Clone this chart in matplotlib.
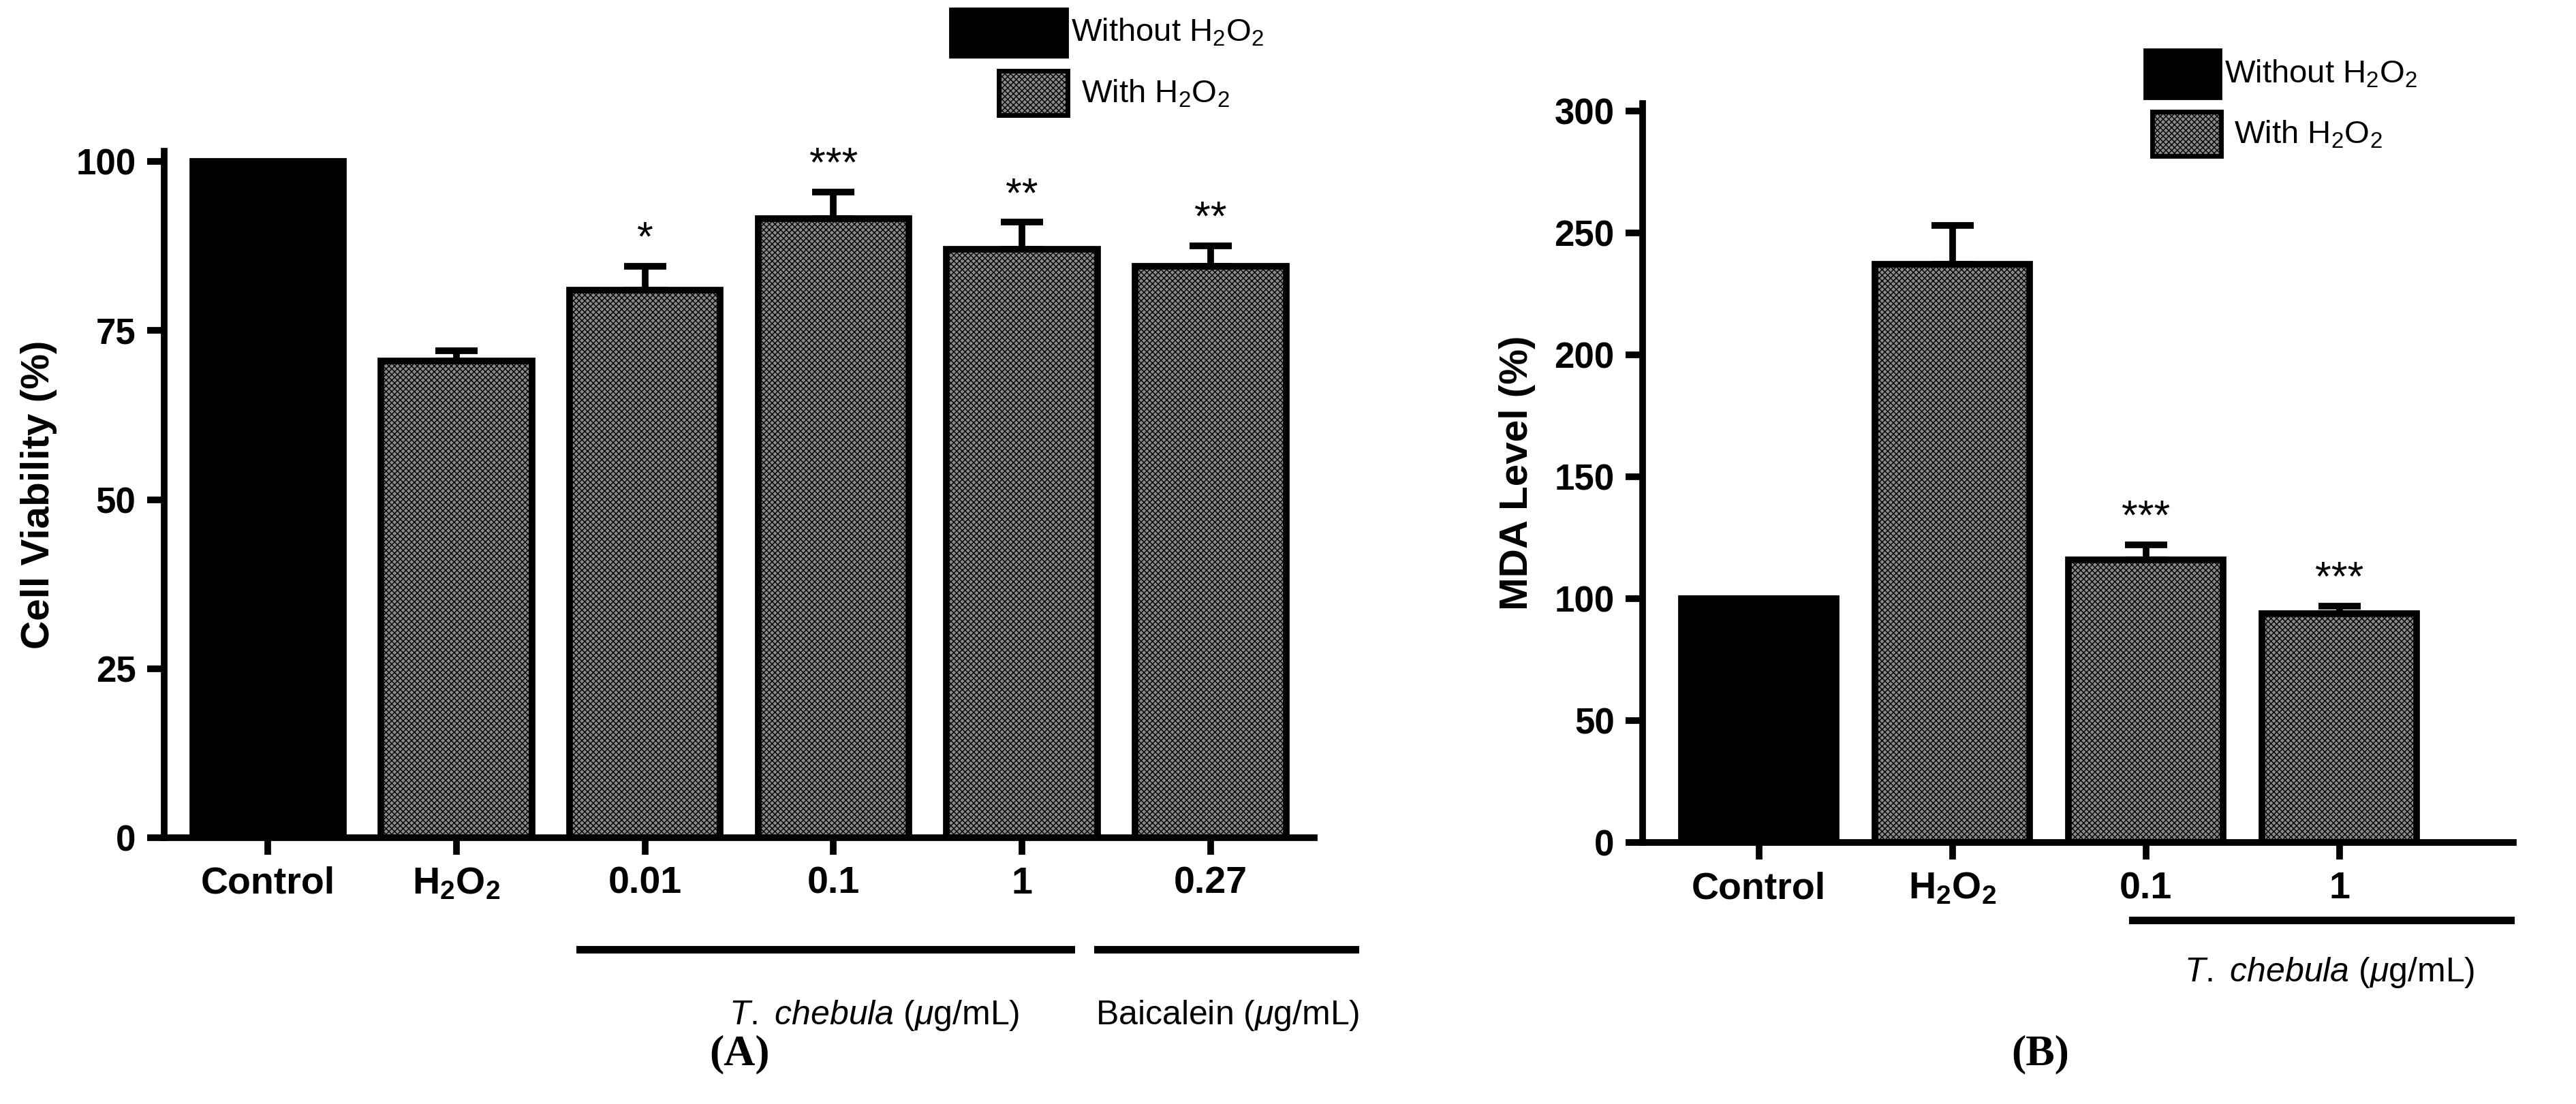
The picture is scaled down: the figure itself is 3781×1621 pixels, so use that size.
import matplotlib
matplotlib.use("Agg")
import matplotlib.pyplot as plt
import numpy as np

plt.rcParams['font.family'] = ['Liberation Sans', 'DejaVu Sans']
plt.rcParams['mathtext.fontset'] = 'custom'
plt.rcParams['mathtext.rm'] = 'Liberation Sans'
plt.rcParams['mathtext.it'] = 'Liberation Sans:italic'
plt.rcParams['mathtext.bf'] = 'Liberation Sans:bold'

# Panel A data
catsA = ["Control", "H$_\\mathbf{2}$O$_\\mathbf{2}$", "0.01", "0.1", "1", "0.27"]
valsA = [100, 70.5, 81, 91.5, 87, 84.5]
errA = [0, 1.5, 3.5, 4, 4, 3]
starsA = ["", "", "*", "***", "**", "**"]
treatA = [False, True, True, True, True, True]
yticksA = [0, 25, 50, 75, 100]

# Panel B data
catsB = ["Control", "H$_\\mathbf{2}$O$_\\mathbf{2}$", "0.1", "1"]
valsB = [100, 237, 116, 94]
errB = [0, 16, 6, 3]
starsB = ["", "", "***", "***"]
treatB = [False, True, True, True]
yticksB = [0, 50, 100, 150, 200, 250, 300]

W, H = 1568, 672
fig = plt.figure(figsize=(37.81, 16.21), dpi=100)
def fx(x): return x / W
def fy(y): return 1 - y / H

LW = 7
def draw(ax, cats, vals, errs, stars, treat, yticks, ylim, ylabel, xlim):
    x = np.arange(len(cats))
    for i in range(len(cats)):
        if treat[i]:
            ax.bar(x[i], vals[i], 0.8, color="#8a8a8a", hatch="xxxx", edgecolor="black", linewidth=0)
            ax.bar(x[i], vals[i], 0.8, fill=False, edgecolor="black", linewidth=LW)
        else:
            ax.bar(x[i], vals[i], 0.8, color="black", edgecolor="black", linewidth=LW)
        if errs[i] > 0:
            ax.errorbar(x[i], vals[i], yerr=[[0], [errs[i]]], fmt="none", ecolor="black",
                        elinewidth=LW, capsize=22, capthick=LW)
        if stars[i]:
            ax.text(x[i], vals[i] + errs[i] + ylim[1] * 0.01, stars[i], ha="center", va="bottom",
                    fontsize=44)
    ax.set_xticks(x)
    ax.set_xticklabels(cats, fontsize=40, fontweight="bold")
    ax.set_yticks(yticks)
    ax.set_yticklabels([str(t) for t in yticks], fontsize=38, fontweight="bold")
    ax.set_ylim(*ylim)
    ax.set_xlim(*xlim)
    ax.set_ylabel(ylabel, fontsize=42, fontweight="bold", labelpad=20)
    for s in ["top", "right"]:
        ax.spines[s].set_visible(False)
    for s in ["left", "bottom"]:
        ax.spines[s].set_linewidth(LW)
    ax.tick_params(width=LW, length=18, pad=12)

axA = fig.add_axes([fx(100), fy(510), fx(800 - 100), fy(92) - fy(510)])
draw(axA, catsA, valsA, errA, starsA, treatA, yticksA, (0, 101.5), "Cell Viability (%)", (-0.55, 5.55))
axB = fig.add_axes([fx(1000), fy(513), fx(1530 - 1000), fy(63) - fy(513)])
draw(axB, catsB, valsB, errB, starsB, treatB, yticksB, (0, 303), "MDA Level (%)", (-0.6, 3.9))

def hline(x0, x1, y):
    fig.add_artist(plt.Line2D([fx(x0), fx(x1)], [fy(y), fy(y)], color="black", lw=8))
def txt(x, y, s, **kw):
    fig.text(fx(x), fy(y), s, ha="center", va="center", **kw)

hline(353, 652, 578); hline(668, 825, 578)
txt(532, 618, "$\\it{T.\\ chebula}$ ($\\mu$g/mL)", fontsize=36)
txt(747, 618, "Baicalein ($\\mu$g/mL)", fontsize=36)
hline(1298, 1528, 560)
txt(1418, 592, "$\\it{T.\\ chebula}$ ($\\mu$g/mL)", fontsize=36)

txt(450, 642, "(A)", fontsize=46, family="Liberation Serif", fontweight="bold")
txt(1242, 642, "(B)", fontsize=46, family="Liberation Serif", fontweight="bold")

def legbox(x0, y0, x1, y1, treated):
    if treated:
        r = plt.Rectangle((fx(x0), fy(y1)), fx(x1 - x0), fy(y0) - fy(y1), transform=fig.transFigure,
                          facecolor="#8a8a8a", hatch="xxxx", edgecolor="black", linewidth=0)
        fig.add_artist(r)
        r = plt.Rectangle((fx(x0), fy(y1)), fx(x1 - x0), fy(y0) - fy(y1), transform=fig.transFigure,
                          fill=False, edgecolor="black", linewidth=5)
    else:
        r = plt.Rectangle((fx(x0), fy(y1)), fx(x1 - x0), fy(y0) - fy(y1), transform=fig.transFigure,
                          facecolor="black", edgecolor="black", linewidth=2)
    fig.add_artist(r)

legbox(578, 5, 650, 35, False)
fig.text(fx(652), fy(20), "Without H$_2$O$_2$", fontsize=34, va="center")
legbox(608, 43, 650, 70, True)
fig.text(fx(658), fy(57), "With H$_2$O$_2$", fontsize=34, va="center")
legbox(1305, 30, 1352, 60, False)
fig.text(fx(1354), fy(45), "Without H$_2$O$_2$", fontsize=34, va="center")
legbox(1310, 68, 1352, 95, True)
fig.text(fx(1360), fy(82), "With H$_2$O$_2$", fontsize=34, va="center")

fig.savefig("out.png", dpi=100)
